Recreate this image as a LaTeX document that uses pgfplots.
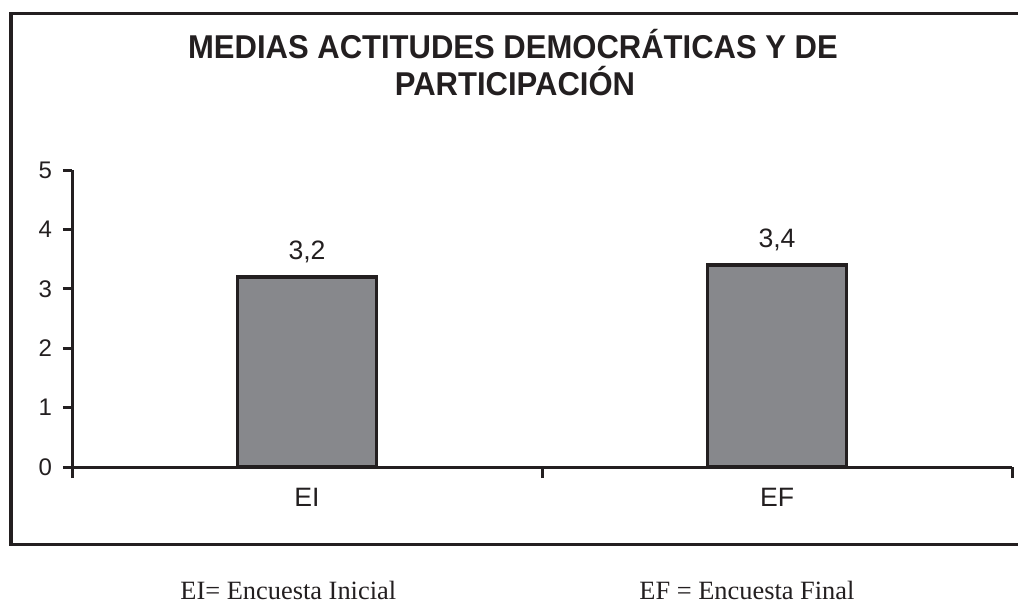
\documentclass[border=0pt]{standalone}
\usepackage{pgfplots}
\pgfplotsset{compat=1.18}
\usepackage{fontspec}
\setmainfont{Liberation Sans}
\newfontfamily\seriffont{Liberation Serif}
\newfontfamily\titlefont[FakeStretch=0.94]{Liberation Sans}
\definecolor{ink}{HTML}{231F20}
\definecolor{barfill}{HTML}{87888C}
\begin{document}
\begin{tikzpicture}
\useasboundingbox (0,0) rectangle (509pt,301pt);
\draw[ink, line width=1.7pt] (5.5pt,28.75pt) rectangle (530pt,294.25pt);
\node[anchor=base, inner sep=0pt, text=ink, font=\titlefont\bfseries\fontsize{16.5}{20}\selectfont] at (256.5pt,272pt) {MEDIAS ACTITUDES DEMOCRÁTICAS Y DE};
\node[anchor=base, inner sep=0pt, text=ink, font=\titlefont\bfseries\fontsize{16.5}{20}\selectfont] at (257.5pt,253.5pt) {PARTICIPACIÓN};
\begin{axis}[
  at={(36pt,67.5pt)}, anchor=south west,
  scale only axis, width=470pt, height=148.5pt,
  xmin=0, xmax=2, ymin=0, ymax=5,
  axis x line*=bottom, axis y line*=left,
  axis line style={ink, line width=1.5pt},
  ytick={0,1,2,3,4,5},
  xtick={0.5,1.5}, xticklabels={EI,EF},
  minor xtick={0,1,2},
  tick align=outside,
  major tick length=4.5pt, minor tick length=5.5pt,
  tick style={ink, line width=1.5pt},
  major x tick style={draw=none},
  yticklabel style={font=\fontsize{12}{14}\selectfont, text=ink, xshift=-2pt},
  xticklabel style={font=\fontsize{13.3}{16}\selectfont, text=ink, yshift=-2.5pt},
  /pgf/number format/assume math mode=true,
  /pgf/number format/use comma,
  ybar, bar width=69.5pt,
  nodes near coords,
  every node near coord/.append style={font=\fontsize{13.3}{16}\selectfont, text=ink, yshift=3pt},
]
\addplot[fill=barfill, draw=ink, line width=1.6pt] coordinates {(0.5,3.2) (1.5,3.4)};
\end{axis}
\node[anchor=base west, inner sep=0pt, text=ink, font=\seriffont\fontsize{13.2}{16}\selectfont] at (90pt,1.5pt) {EI= Encuesta Inicial};
\node[anchor=base west, inner sep=0pt, text=ink, font=\seriffont\fontsize{13.2}{16}\selectfont] at (319.5pt,1.5pt) {EF = Encuesta Final};
\end{tikzpicture}
\end{document}
